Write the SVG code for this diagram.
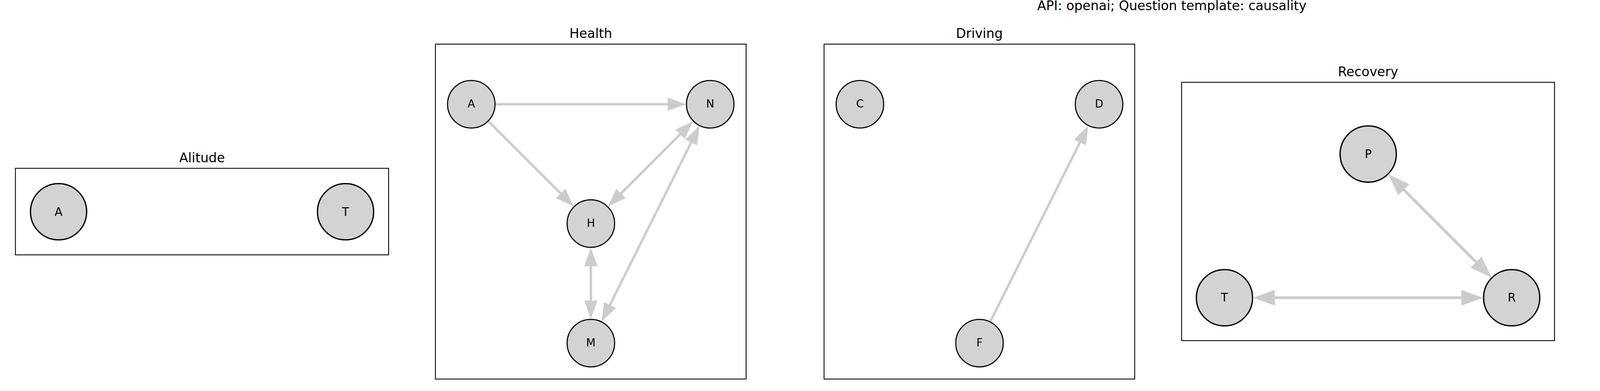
<svg xmlns="http://www.w3.org/2000/svg" width="6000" height="1000" viewBox="0 0 6000 1000">
<style>
.frame{fill:none;stroke:#000;stroke-width:2.2}
.title{font-family:"DejaVu Sans","Liberation Sans",sans-serif;font-size:33.3px;fill:#000;text-anchor:middle}
.n circle{fill:#d3d3d3;stroke:#000;stroke-width:2.8}
.nb circle{fill:#d3d3d3;stroke:#000;stroke-width:3.3}
.lbl{font-family:"DejaVu Sans","Liberation Sans",sans-serif;font-size:27.8px;fill:#000;text-anchor:middle}
.lblb{font-family:"DejaVu Sans","Liberation Sans",sans-serif;font-size:29.5px;fill:#000;text-anchor:middle}
.e{stroke:#cccccc;stroke-width:6.2;fill:none}
.eb{stroke:#cccccc;stroke-width:7.2;fill:none}
</style>
<defs>
<marker id="arr" markerUnits="userSpaceOnUse" markerWidth="60" markerHeight="60" viewBox="0 -30 60 60" refX="0" refY="0" orient="auto-start-reverse" overflow="visible">
<path d="M0,-17 L47,0 L0,17 Z" fill="#cccccc"/>
</marker>
<marker id="arrb" markerUnits="userSpaceOnUse" markerWidth="70" markerHeight="70" viewBox="0 -35 70 70" refX="0" refY="0" orient="auto-start-reverse" overflow="visible">
<path d="M0,-20 L56,0 L0,20 Z" fill="#cccccc"/>
</marker>
</defs>
<rect x="0" y="0" width="6000" height="1000" fill="#fff"/>
<text class="title" x="3000" y="26">API: openai; Question template: causality</text>

<!-- Panel frames and titles -->
<g id="panel-alitude">
<rect class="frame" x="39.5" y="430.5" width="955.4" height="221.3"/>
<text class="title" x="517.2" y="414.5">Alitude</text>
</g>
<g id="panel-health">
<rect class="frame" x="1114.7" y="112.9" width="795.3" height="856.5"/>
<text class="title" x="1512.4" y="97">Health</text>
</g>
<g id="panel-driving">
<rect class="frame" x="2109.6" y="112.9" width="795.2" height="856.5"/>
<text class="title" x="2507.2" y="97">Driving</text>
</g>
<g id="panel-recovery">
<rect class="frame" x="3024.9" y="210.5" width="954.7" height="660.7"/>
<text class="title" x="3502.3" y="194.5">Recovery</text>
</g>
<g id="panel-cancer">
<rect class="frame" x="4099.5" y="112.9" width="795.3" height="856.5"/>
<text class="title" x="4497.2" y="97">Cancer</text>
</g>
<g id="panel-earthquake">
<rect class="frame" x="5094.4" y="112.9" width="795.3" height="856.5"/>
<text class="title" x="5492" y="97">Earthquake</text>
</g>

<!-- Connectors -->
<g id="connectors">
<!-- Health -->
<line class="e" x1="1268.5" y1="266.6" x2="1709.1" y2="266.6" marker-end="url(#arr)"/>
<line class="e" x1="1250.4" y1="310.4" x2="1435.4" y2="494.8" marker-end="url(#arr)"/>
<line class="e" x1="1741.0" y1="343.6" x2="1589.8" y2="494.8" marker-start="url(#arr)" marker-end="url(#arr)"/>
<line class="e" x1="1512.6" y1="680.8" x2="1512.6" y2="768.6" marker-start="url(#arr)" marker-end="url(#arr)"/>
<line class="e" x1="1769.4" y1="364.1" x2="1561.3" y2="780.1" marker-start="url(#arr)" marker-end="url(#arr)"/>
<!-- Driving -->
<line class="e" x1="2535.3" y1="822.2" x2="2764.7" y2="364.0" marker-end="url(#arr)"/>
<!-- Recovery -->
<line class="eb" x1="3593.8" y1="485.3" x2="3778.7" y2="670.3" marker-start="url(#arrb)" marker-end="url(#arrb)"/>
<line class="eb" x1="3263.6" y1="761.5" x2="3740.9" y2="761.5" marker-start="url(#arrb)" marker-end="url(#arrb)"/>
<!-- Cancer -->
<line class="e" x1="4268.4" y1="343.6" x2="4725.8" y2="800.6" marker-start="url(#arr)" marker-end="url(#arr)"/>
<line class="e" x1="4533.4" y1="500.1" x2="4739.6" y2="788.8" marker-end="url(#arr)"/>
<line class="e" x1="4590.9" y1="393.5" x2="4709.4" y2="322.7" marker-start="url(#arr)" marker-end="url(#arr)"/>
<line class="e" x1="4802.9" y1="375.6" x2="4802.9" y2="768.6" marker-start="url(#arr)" marker-end="url(#arr)"/>
<!-- Earthquake -->
<line class="e" x1="5222.3" y1="827.2" x2="5428.9" y2="538.2" marker-end="url(#arr)"/>
</g>

<!-- Alitude nodes -->
<g id="alitude-A" class="nb"><circle cx="149.9" cy="541.5" r="71.9"/><text class="lblb" x="149.9" y="551.5">A</text></g>
<g id="alitude-T" class="nb"><circle cx="884.6" cy="541.5" r="71.9"/><text class="lblb" x="884.6" y="551.5">T</text></g>

<!-- Health nodes -->
<g id="health-A" class="n"><circle cx="1206.5" cy="266.6" r="60.8"/><text class="lbl" x="1206.5" y="275">A</text></g>
<g id="health-N" class="n"><circle cx="1818.1" cy="266.6" r="60.8"/><text class="lbl" x="1818.1" y="275">N</text></g>
<g id="health-H" class="n"><circle cx="1512.6" cy="571.8" r="60.8"/><text class="lbl" x="1512.6" y="580.2">H</text></g>
<g id="health-M" class="n"><circle cx="1512.6" cy="877.6" r="60.8"/><text class="lbl" x="1512.6" y="886">M</text></g>

<!-- Driving nodes -->
<g id="driving-C" class="n"><circle cx="2201.4" cy="266.6" r="60.8"/><text class="lbl" x="2201.4" y="275">C</text></g>
<g id="driving-D" class="n"><circle cx="2813.6" cy="266.6" r="60.8"/><text class="lbl" x="2813.6" y="275">D</text></g>
<g id="driving-F" class="n"><circle cx="2507.5" cy="877.6" r="60.8"/><text class="lbl" x="2507.5" y="886">F</text></g>

<!-- Recovery nodes -->
<g id="recovery-P" class="nb"><circle cx="3502.6" cy="394.1" r="71.9"/><text class="lblb" x="3502.6" y="403.8">P</text></g>
<g id="recovery-T" class="nb"><circle cx="3134.6" cy="761.5" r="71.9"/><text class="lblb" x="3134.6" y="771.2">T</text></g>
<g id="recovery-R" class="nb"><circle cx="3869.9" cy="761.5" r="71.9"/><text class="lblb" x="3869.9" y="771.2">R</text></g>

<!-- Cancer nodes -->
<g id="cancer-P" class="n"><circle cx="4191.3" cy="266.6" r="60.8"/><text class="lbl" x="4191.3" y="275">P</text></g>
<g id="cancer-S" class="n"><circle cx="4802.9" cy="266.6" r="60.8"/><text class="lbl" x="4802.9" y="275">S</text></g>
<g id="cancer-C" class="n"><circle cx="4497.4" cy="449.6" r="60.8"/><text class="lbl" x="4497.4" y="458">C</text></g>
<g id="cancer-X" class="n"><circle cx="4191.3" cy="877.6" r="60.8"/><text class="lbl" x="4191.3" y="886">X</text></g>
<g id="cancer-D" class="n"><circle cx="4802.9" cy="877.6" r="60.8"/><text class="lbl" x="4802.9" y="886">D</text></g>

<!-- Earthquake nodes -->
<g id="earthquake-E" class="n"><circle cx="5186.2" cy="266.6" r="60.8"/><text class="lbl" x="5186.2" y="275">E</text></g>
<g id="earthquake-B" class="n"><circle cx="5797.8" cy="266.6" r="60.8"/><text class="lbl" x="5797.8" y="275">B</text></g>
<g id="earthquake-A" class="n"><circle cx="5492.3" cy="449.6" r="60.8"/><text class="lbl" x="5492.3" y="458">A</text></g>
<g id="earthquake-J" class="n"><circle cx="5186.2" cy="877.6" r="60.8"/><text class="lbl" x="5186.2" y="886">J</text></g>
<g id="earthquake-M" class="n"><circle cx="5797.8" cy="877.6" r="60.8"/><text class="lbl" x="5797.8" y="886">M</text></g>
</svg>
